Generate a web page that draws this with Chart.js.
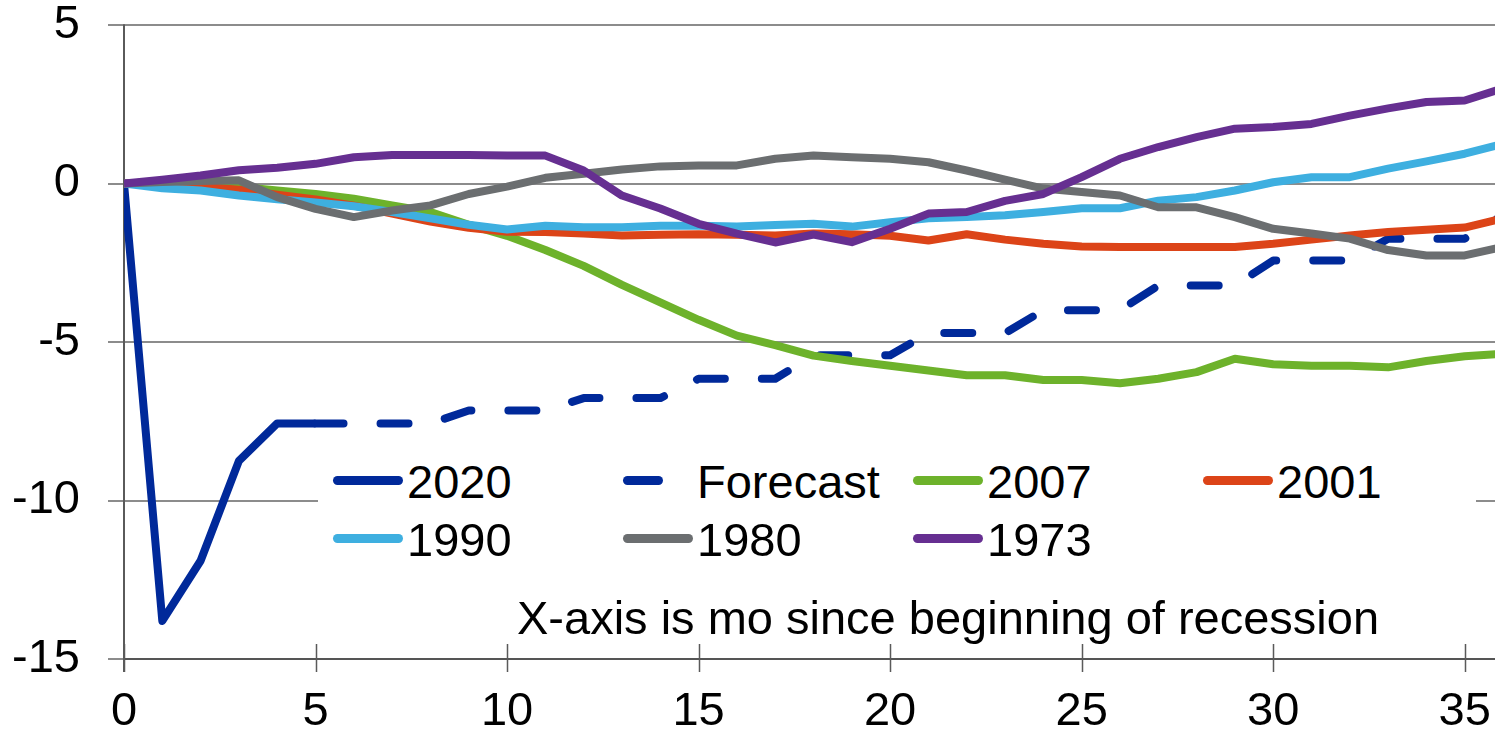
<!DOCTYPE html>
<html>
<head>
<meta charset="utf-8">
<script src="https://cdn.jsdelivr.net/npm/chart.js@4.4.1/dist/chart.umd.min.js"></script>
<style>
html,body{margin:0;padding:0;background:#fff;overflow:hidden;width:1495px;height:734px}
#wrap{position:absolute;left:0;top:0;width:1530px;height:734px}
#legenda{position:absolute;left:318px;top:452px;width:1158px;height:100px;background:#fff}
.item{position:absolute;font:47px/1 'Liberation Sans',Arial,sans-serif;color:#000;white-space:nowrap}
.amostra{position:absolute;height:9px;border-radius:5px}
#nota{position:absolute;left:517px;top:594px;font:47px/1 'Liberation Sans',Arial,sans-serif;color:#000;white-space:nowrap}
</style>
</head>
<body>
<div id="wrap"><canvas id="grafico" width="1530" height="734"></canvas></div>
<div id="legenda"></div>
<div id="nota">X-axis is mo since beginning of recession</div>
<script>
/* ================= Dados ================= */
const meses = [0,1,2,3,4,5,6,7,8,9,10,11,12,13,14,15,16,17,18,19,20,21,22,23,24,25,26,27,28,29,30,31,32,33,34,35,36];
const xTicks = [0,5,10,15,20,25,30,35];
const yTicks = [-15,-10,-5,0,5];

const s2020 = [0,-13.8,-11.9,-8.75,-7.57,-7.57,null,null,null,null,null,null,null,null,null,null,null,null,null,null,null,null,null,null,null,null,null,null,null,null,null,null,null,null,null,null,null];
const previsao = [null,null,null,null,null,-7.57,-7.57,-7.57,-7.57,-7.16,-7.16,-7.16,-6.77,-6.77,-6.77,-6.16,-6.16,-6.16,-5.42,-5.42,-5.42,-4.72,-4.72,-4.72,-4.0,-4.0,-4.0,-3.22,-3.22,-3.22,-2.43,-2.43,-2.43,-1.74,-1.74,-1.74,-1.0];
const s2007 = [0,0.02,0.03,-0.1,-0.22,-0.33,-0.48,-0.69,-0.9,-1.3,-1.65,-2.1,-2.6,-3.2,-3.75,-4.3,-4.8,-5.1,-5.43,-5.6,-5.75,-5.9,-6.05,-6.05,-6.2,-6.2,-6.3,-6.16,-5.95,-5.53,-5.7,-5.75,-5.75,-5.8,-5.6,-5.45,-5.37];
const s2001 = [0,-0.05,-0.1,-0.2,-0.35,-0.5,-0.7,-0.95,-1.2,-1.4,-1.52,-1.53,-1.58,-1.64,-1.62,-1.6,-1.62,-1.64,-1.58,-1.6,-1.65,-1.8,-1.6,-1.77,-1.9,-1.99,-2.0,-2.0,-2.0,-2.0,-1.9,-1.77,-1.64,-1.53,-1.46,-1.39,-1.1];
const s1990 = [0,-0.15,-0.22,-0.38,-0.5,-0.6,-0.72,-0.9,-1.1,-1.3,-1.45,-1.33,-1.38,-1.38,-1.33,-1.33,-1.36,-1.31,-1.27,-1.36,-1.22,-1.1,-1.06,-1.0,-0.9,-0.78,-0.78,-0.54,-0.43,-0.22,0.04,0.2,0.2,0.47,0.7,0.94,1.25];
const s1980 = [0,0.05,0.08,0.1,-0.43,-0.8,-1.06,-0.85,-0.69,-0.33,-0.1,0.18,0.31,0.44,0.54,0.57,0.57,0.78,0.88,0.83,0.78,0.67,0.41,0.12,-0.16,-0.27,-0.38,-0.75,-0.75,-1.06,-1.43,-1.58,-1.74,-2.1,-2.27,-2.27,-2.0];
const s1973 = [0,0.12,0.25,0.42,0.5,0.62,0.83,0.9,0.9,0.9,0.88,0.88,0.41,-0.38,-0.79,-1.27,-1.58,-1.86,-1.61,-1.85,-1.43,-0.95,-0.9,-0.55,-0.33,0.2,0.78,1.15,1.46,1.73,1.78,1.88,2.14,2.37,2.57,2.62,3.0];

const nomes = ['2020','Forecast','2007','2001','1990','1980','1973'];
const valores = [s2020, previsao, s2007, s2001, s1990, s1980, s1973];
const cores = ['#00299a','#00299a','#6db22b','#dc4418','#3eafe0','#6b6e70','#662f91'];

/* ================= Helpers ================= */
function qs(id){ return document.getElementById(id); }
const FONTE = "'Liberation Sans', Arial, sans-serif";
function semPadding(s){ s.paddingTop = 0; s.paddingBottom = 0; s.paddingLeft = 0; s.paddingRight = 0; }

/* marcas do eixo x que cruzam a linha de base */
const marcasEixo = {
  id: 'marcasEixo',
  beforeDatasetsDraw(chart){
    const { ctx, chartArea: a, scales: { x } } = chart;
    ctx.save();
    ctx.strokeStyle = '#5a5a5a'; ctx.lineWidth = 1.5;
    ctx.beginPath();
    xTicks.forEach(v => {
      const px = Math.round(x.getPixelForValue(v)) + 0.5;
      ctx.moveTo(px, a.bottom - 15); ctx.lineTo(px, a.bottom + 13);
    });
    ctx.stroke();
    ctx.lineWidth = 2;
    ctx.beginPath(); ctx.moveTo(a.left, a.top); ctx.lineTo(a.left, a.bottom + 13); ctx.stroke();
    ctx.restore();
  }
};

/* ================= Gráfico ================= */
const datasets = nomes.map((n, i) => ({
  label: n,
  data: meses.map((m, j) => ({ x: m, y: valores[i][j] })),
  borderColor: cores[i],
  backgroundColor: cores[i],
  borderWidth: 8,
  borderDash: n === 'Forecast' ? [28, 37] : [],
  borderCapStyle: n === 'Forecast' ? 'round' : 'butt',
  borderJoinStyle: 'round',
  pointRadius: 0,
  tension: 0,
  fill: false,
  order: nomes.length - i
}));

new Chart(qs('grafico'), {
  type: 'line',
  data: { datasets },
  options: {
    responsive: false,
    animation: false,
    devicePixelRatio: 1,
    // área: topo 25, direita 1503 (canvas 1530), base 659, esquerda 124
    layout: { padding: { top: 25, right: 27, left: 0, bottom: 0 } },
    plugins: { legend: { display: false }, tooltip: { enabled: false } },
    scales: {
      x: {
        type: 'linear', min: 0, max: 36,
        afterFit: s => { s.height = 75; semPadding(s); },
        afterBuildTicks: s => { s.ticks = xTicks.map(v => ({ value: v })); },
        ticks: { stepSize: 5, includeBounds: false, padding: 30, color: '#000', font: { family: FONTE, size: 47, lineHeight: 1 } },
        grid: { display: false, drawTicks: false },
        border: { display: true, color: '#555', width: 2 }
      },
      y: {
        min: -15, max: 5,
        afterFit: s => { s.width = 124; semPadding(s); },
        afterBuildTicks: s => { s.ticks = yTicks.map(v => ({ value: v })); },
        ticks: { stepSize: 5, padding: 28, color: '#000', font: { family: FONTE, size: 47, lineHeight: 1 } },
        grid: { color: '#8c8c8c', lineWidth: 2, tickLength: 16, drawTicks: true, tickColor: '#8c8c8c' },
        border: { display: true, color: '#6b6b6b', width: 2 }
      }
    }
  },
  plugins: [marcasEixo]
});

/* ================= Legenda ================= */
const leg = qs('legenda');
nomes.forEach((n, i) => {
  const col = i % 4, lin = Math.floor(i / 4);
  const left = 15 + col * 290, centro = 28 + lin * 58;
  const am = document.createElement('div');
  am.className = 'amostra';
  am.style.cssText = `left:${left}px;top:${centro - 4.5}px;width:${n === 'Forecast' ? 40 : 70}px;background:${cores[i]}`;
  leg.appendChild(am);
  const tx = document.createElement('div');
  tx.className = 'item';
  tx.style.left = (left + 74) + 'px';
  tx.style.top = (centro - 22) + 'px';
  tx.textContent = n;
  leg.appendChild(tx);
});
</script>
</body>
</html>
